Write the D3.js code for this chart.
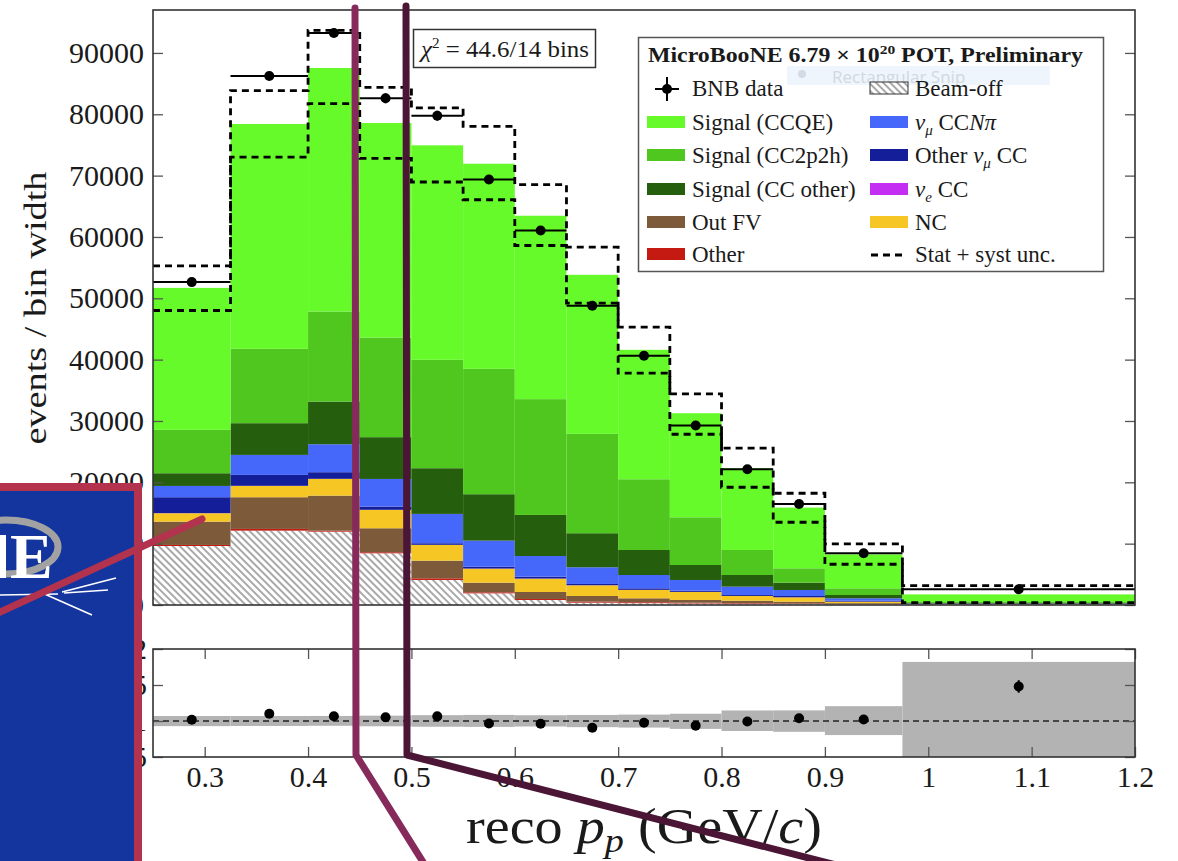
<!DOCTYPE html>
<meta charset="utf-8">
<style>
body { margin: 0; background: #fff; }
svg text { font-family: "Liberation Serif", "Times New Roman", serif; }
</style>
<body>
<script src="https://d3js.org/d3.v7.min.js"></script>
<script>

// bin edges of reco p_p (GeV/c)
var binEdges = [0.25, 0.325, 0.4, 0.45, 0.5, 0.55, 0.6, 0.65, 0.7, 0.75, 0.8, 0.85, 0.9, 0.975, 1.2];

// stacked prediction, events / bin width (bottom to top)
var beamOff   = [9620, 12120, 11960, 8430, 4080, 1900, 820, 380, 300, 250, 200, 150, 100, 20];
var otherBkg  = [170, 280, 160, 170, 270, 170, 160, 160, 150, 120, 100, 80, 60, 10];
var outFV     = [3800, 5170, 5710, 3910, 2880, 1570, 1140, 930, 640, 450, 400, 310, 140, 30];
var ncVals    = [1370, 1840, 2720, 2990, 2560, 2280, 2170, 1740, 1360, 1300, 770, 710, 240, 40];
var nueCC     = [20, 20, 20, 20, 20, 20, 20, 20, 20, 20, 10, 10, 10, 5];
var otherNumu = [2590, 1780, 1080, 520, 260, 310, 310, 200, 250, 190, 150, 210, 150, 25];
var ccNpi     = [1840, 3260, 4560, 4510, 4780, 4240, 3370, 2720, 2170, 1750, 1360, 980, 390, 100];
var sigCCother= [2070, 5170, 6960, 6810, 7450, 7570, 6690, 5550, 4080, 2440, 1900, 1190, 540, 100];
var sig2p2h   = [7070, 12120, 14680, 16250, 17670, 20440, 18880, 16200, 11530, 7780, 4080, 2340, 1090, 170];
var sigCCQE   = [23150, 36660, 39700, 34970, 34970, 33440, 29900, 25930, 21100, 16970, 13330, 9900, 5530, 1230];

// BNB data
var dataVals = [52640, 86250, 93260, 82600, 79770, 69380, 61060, 48780, 40620, 29250, 22140, 16480, 8430, 2560];
var dataErr  = [500, 600, 700, 800, 800, 700, 700, 600, 600, 500, 450, 400, 300, 150];

// stat + syst envelope
var uncHigh = [55300, 83850, 93690, 84390, 81030, 78030, 68520, 58350, 45300, 34420, 25560, 18220, 9950, 3150];
var uncLow  = [48010, 73030, 81730, 72810, 68960, 66070, 58610, 49220, 37800, 27840, 19200, 13490, 6640, 400];

var xTicks = [0.3, 0.4, 0.5, 0.6, 0.7, 0.8, 0.9, 1.0, 1.1, 1.2];
var yTicks = [0, 10000, 20000, 30000, 40000, 50000, 60000, 70000, 80000, 90000];
var ratioTicks = [0.5, 1, 1.5, 2];

var W = 1178, H = 861;
var ink = "#1a1a1a";
var svg = d3.select("body").append("svg").attr("width", W).attr("height", H);

var defs = svg.append("defs");
var hatch = defs.append("pattern").attr("id", "hatch")
    .attr("patternUnits", "userSpaceOnUse").attr("width", 5).attr("height", 5)
    .attr("patternTransform", "rotate(-45)");
hatch.append("rect").attr("width", 5).attr("height", 5).attr("fill", "#fff");
hatch.append("line").attr("x1", 1).attr("y1", 0).attr("x2", 1).attr("y2", 5)
    .attr("stroke", "#8c8c8c").attr("stroke-width", 1.5);

defs.append("clipPath").attr("id", "clipTop").append("rect")
    .attr("x", 153).attr("y", 10).attr("width", 982).attr("height", 595);
defs.append("clipPath").attr("id", "clipBot").append("rect")
    .attr("x", 153).attr("y", 649).attr("width", 982).attr("height", 108);

// scales
var x = d3.scaleLinear().domain([0.25, 1.2]).range([153, 1135]);
var y = d3.scaleLinear().domain([0, 97000]).range([605, 10]);
var yr = d3.scaleLinear().domain([0.5, 2]).range([757, 649]);

var layers = [
  {key: "beamoff", values: beamOff, fill: "url(#hatch)"},
  {key: "other", values: otherBkg, fill: "#c41a12"},
  {key: "outfv", values: outFV, fill: "#7d5a3a"},
  {key: "nc", values: ncVals, fill: "#f5c624"},
  {key: "nue", values: nueCC, fill: "#c42df2"},
  {key: "othernumu", values: otherNumu, fill: "#141e99"},
  {key: "ccnpi", values: ccNpi, fill: "#4567fa"},
  {key: "ccother", values: sigCCother, fill: "#255e0c"},
  {key: "cc2p2h", values: sig2p2h, fill: "#50c71f"},
  {key: "ccqe", values: sigCCQE, fill: "#67fa2b"}
];

var table = binEdges.slice(0, -1).map(function(lo, i) {
  var row = {lo: lo, hi: binEdges[i + 1]};
  layers.forEach(function(l) { row[l.key] = l.values[i]; });
  return row;
});
var stacked = d3.stack().keys(layers.map(function(l) { return l.key; }))(table);
var pred = table.map(function(row) {
  return d3.sum(layers, function(l) { return row[l.key]; });
});

// ---------- top panel ----------
var mainG = svg.append("g").attr("clip-path", "url(#clipTop)");

stacked.forEach(function(s, k) {
  mainG.append("g").selectAll("rect")
      .data(s)
    .enter().append("rect")
      .attr("x", function(d) { return x(d.data.lo); })
      .attr("width", function(d) { return x(d.data.hi) - x(d.data.lo); })
      .attr("y", function(d) { return y(d[1]); })
      .attr("height", function(d) { return y(d[0]) - y(d[1]); })
      .attr("fill", layers[k].fill);
});

function stepPoints(vals) {
  var pts = [];
  vals.forEach(function(v, i) {
    pts.push([x(binEdges[i]), y(v)]);
    pts.push([x(binEdges[i + 1]), y(v)]);
  });
  return pts;
}
[uncHigh, uncLow].forEach(function(arr) {
  mainG.append("path")
      .attr("d", d3.line()(stepPoints(arr)))
      .attr("fill", "none")
      .attr("stroke", "#000")
      .attr("stroke-width", 2.8)
      .attr("stroke-dasharray", "7,5");
});

// data
var dg = mainG.append("g");
dataVals.forEach(function(v, i) {
  var cx = x((binEdges[i] + binEdges[i + 1]) / 2);
  dg.append("line").attr("x1", x(binEdges[i])).attr("x2", x(binEdges[i + 1]))
      .attr("y1", y(v)).attr("y2", y(v)).attr("stroke", "#000").attr("stroke-width", 2);
  dg.append("line").attr("x1", cx).attr("x2", cx)
      .attr("y1", y(v - dataErr[i])).attr("y2", y(v + dataErr[i])).attr("stroke", "#000").attr("stroke-width", 2);
  dg.append("circle").attr("cx", cx).attr("cy", y(v)).attr("r", 5).attr("fill", "#000");
});

// axes top
var axL = svg.append("g").attr("transform", "translate(153,0)")
    .call(d3.axisLeft(y).tickValues(yTicks).tickSizeInner(-10).tickSizeOuter(0).tickPadding(9).tickFormat(d3.format("d")));
var axR = svg.append("g").attr("transform", "translate(1135,0)")
    .call(d3.axisRight(y).tickValues(yTicks).tickSizeInner(-10).tickSizeOuter(0).tickFormat(""));
[axL, axR].forEach(function(a) {
  a.select(".domain").remove();
  a.selectAll("line").attr("stroke", "#555").attr("stroke-width", 1.3);
});
axL.selectAll("text").style("font-family", "Liberation Serif").style("font-size", "30px").style("fill", ink);

svg.append("rect").attr("x", 153).attr("y", 10).attr("width", 982).attr("height", 595)
    .attr("fill", "none").attr("stroke", "#333").attr("stroke-width", 1.6);

svg.append("text")
    .attr("transform", "translate(46,308) rotate(-90)")
    .attr("text-anchor", "middle")
    .attr("textLength", 273).attr("lengthAdjust", "spacingAndGlyphs")
    .style("font-size", "31px").style("fill", ink)
    .text("events / bin width");

// chi2 box
svg.append("rect").attr("x", 413.5).attr("y", 29.5).attr("width", 182).attr("height", 38)
    .attr("fill", "#fff").attr("stroke", "#333").attr("stroke-width", 1.5);
var chi = svg.append("text").attr("x", 421).attr("y", 57).style("font-size", "23px").style("fill", ink)
    .attr("textLength", 168).attr("lengthAdjust", "spacingAndGlyphs");
chi.append("tspan").style("font-style", "italic").text("χ");
chi.append("tspan").attr("dy", -9).style("font-size", "14px").text("2");
chi.append("tspan").attr("dy", 9).text(" = 44.6/14 bins");

// ---------- ratio panel ----------
var bot = svg.append("g").attr("clip-path", "url(#clipBot)");
pred.forEach(function(p, i) {
  var hi = Math.min(uncHigh[i] / p, 2.1), lo = Math.max(uncLow[i] / p, 0.4);
  bot.append("rect").attr("x", x(binEdges[i])).attr("width", x(binEdges[i + 1]) - x(binEdges[i]))
      .attr("y", yr(hi)).attr("height", yr(lo) - yr(hi)).attr("fill", "#b3b3b3");
});
bot.append("line").attr("x1", x(0.25)).attr("x2", x(1.2)).attr("y1", yr(1)).attr("y2", yr(1))
    .attr("stroke", "#222").attr("stroke-width", 1.6).attr("stroke-dasharray", "6,4");
dataVals.forEach(function(v, i) {
  var r = v / pred[i];
  var cx = x((binEdges[i] + binEdges[i + 1]) / 2);
  bot.append("line").attr("x1", cx).attr("x2", cx)
      .attr("y1", yr(r - dataErr[i] / pred[i])).attr("y2", yr(r + dataErr[i] / pred[i]))
      .attr("stroke", "#000").attr("stroke-width", 2);
  bot.append("circle").attr("cx", cx).attr("cy", yr(r)).attr("r", 5).attr("fill", "#000");
});

var rL = svg.append("g").attr("transform", "translate(153,0)")
    .call(d3.axisLeft(yr).tickValues(ratioTicks).tickSizeInner(-10).tickSizeOuter(0).tickPadding(6).tickFormat(d3.format("~g")));
var rR = svg.append("g").attr("transform", "translate(1135,0)")
    .call(d3.axisRight(yr).tickValues(ratioTicks).tickSizeInner(-10).tickSizeOuter(0).tickFormat(""));
var xB = svg.append("g").attr("transform", "translate(0,757)")
    .call(d3.axisBottom(x).tickValues(xTicks).tickSizeInner(-10).tickSizeOuter(0).tickPadding(9).tickFormat(d3.format("~g")));
var xT = svg.append("g").attr("transform", "translate(0,649)")
    .call(d3.axisTop(x).tickValues(xTicks).tickSizeInner(-10).tickSizeOuter(0).tickFormat(""));
[rL, rR, xB, xT].forEach(function(a) {
  a.select(".domain").remove();
  a.selectAll("line").attr("stroke", "#555").attr("stroke-width", 1.3);
  a.selectAll("text").style("font-family", "Liberation Serif").style("font-size", "30px").style("fill", ink);
});
svg.append("rect").attr("x", 153).attr("y", 649).attr("width", 982).attr("height", 108)
    .attr("fill", "none").attr("stroke", "#333").attr("stroke-width", 1.6);

var xt = svg.append("text").attr("x", 644).attr("y", 843).attr("text-anchor", "middle")
    .style("font-size", "50px").style("fill", ink).attr("textLength", 356).attr("lengthAdjust", "spacingAndGlyphs");
xt.append("tspan").text("reco ");
xt.append("tspan").style("font-style", "italic").text("p");
xt.append("tspan").attr("dy", 9).style("font-size", "34px").style("font-style", "italic").text("p");
xt.append("tspan").attr("dy", -9).text(" (GeV/");
xt.append("tspan").style("font-style", "italic").text("c");
xt.append("tspan").text(")");

// ---------- legend ----------
var lg = svg.append("g");
lg.append("rect").attr("x", 638.5).attr("y", 37.5).attr("width", 465).attr("height", 234)
    .attr("fill", "#fff").attr("stroke", "#555").attr("stroke-width", 1.5);

// snipping tool ghost behind the legend text
lg.append("rect").attr("x", 787).attr("y", 66).attr("width", 263).attr("height", 19).attr("fill", "#eef5fd");
lg.append("circle").attr("cx", 802).attr("cy", 74).attr("r", 4).attr("fill", "#d3dbe6");
lg.append("text").attr("x", 832).attr("y", 83).style("font-family", "Open Sans").style("font-size", "17px")
    .style("fill", "#d2d8e0").text("Rectangular Snip");

var lt = lg.append("text").attr("x", 648).attr("y", 62).style("font-size", "20px").style("font-weight", "bold")
    .style("fill", ink).attr("textLength", 435).attr("lengthAdjust", "spacingAndGlyphs");
lt.append("tspan").text("MicroBooNE 6.79 × 10");
lt.append("tspan").attr("dy", -8).style("font-size", "13px").text("20");
lt.append("tspan").attr("dy", 8).text(" POT, Preliminary");

var rowY = [96, 130, 163, 197, 230, 262];
var leftEntries = [
  {label: "BNB data", kind: "data"},
  {label: "Signal (CCQE)", fill: "#67fa2b"},
  {label: "Signal (CC2p2h)", fill: "#50c71f"},
  {label: "Signal (CC other)", fill: "#255e0c"},
  {label: "Out FV", fill: "#7d5a3a"},
  {label: "Other", fill: "#c41a12"}
];
var rightEntries = [
  {parts: [["Beam-off", ""]], fill: "url(#hatch)", stroke: true},
  {parts: [["ν", "i"], ["μ", "sub"], [" CC", ""], ["N", "i"], ["π", "i"]], fill: "#4567fa"},
  {parts: [["Other ", ""], ["ν", "i"], ["μ", "sub"], [" CC", ""]], fill: "#141e99"},
  {parts: [["ν", "i"], ["e", "sub"], [" CC", ""]], fill: "#c42df2"},
  {parts: [["NC", ""]], fill: "#f5c624"},
  {parts: [["Stat + syst unc.", ""]], kind: "dash"}
];

leftEntries.forEach(function(e, i) {
  var by = rowY[i];
  if (e.kind === "data") {
    lg.append("line").attr("x1", 655).attr("x2", 679).attr("y1", by - 7).attr("y2", by - 7).attr("stroke", "#000").attr("stroke-width", 2);
    lg.append("line").attr("x1", 667).attr("x2", 667).attr("y1", by - 19).attr("y2", by + 5).attr("stroke", "#000").attr("stroke-width", 2);
    lg.append("circle").attr("cx", 667).attr("cy", by - 7).attr("r", 5).attr("fill", "#000");
  } else {
    lg.append("rect").attr("x", 647).attr("y", by - 14).attr("width", 38).attr("height", 12).attr("fill", e.fill);
  }
  lg.append("text").attr("x", 692).attr("y", by).style("font-size", "23px").style("fill", ink).text(e.label);
});

rightEntries.forEach(function(e, i) {
  var by = rowY[i];
  if (e.kind === "dash") {
    lg.append("line").attr("x1", 871).attr("x2", 906).attr("y1", by - 7).attr("y2", by - 7)
        .attr("stroke", "#000").attr("stroke-width", 2.8).attr("stroke-dasharray", "7,5");
  } else {
    lg.append("rect").attr("x", 870).attr("y", by - 14).attr("width", 38).attr("height", 12)
        .attr("fill", e.fill).attr("stroke", e.stroke ? "#333" : "none").attr("stroke-width", 1);
  }
  var t = lg.append("text").attr("x", 915).attr("y", by).style("font-size", "23px").style("fill", ink);
  var shift = 0;
  e.parts.forEach(function(p) {
    var sp = t.append("tspan").text(p[0]);
    if (p[1] === "i") { sp.style("font-style", "italic"); }
    if (p[1] === "sub") {
      sp.style("font-style", "italic").style("font-size", "15px").attr("dy", 5); shift = 5;
    } else if (shift) {
      sp.attr("dy", -shift); shift = 0;
    }
  });
});

// ---------- slide overlays ----------
var ov = svg.append("g");
ov.append("rect").attr("x", 0).attr("y", 487).attr("width", 138).attr("height", 380).attr("fill", "#15359e");
ov.append("ellipse").attr("cx", 6).attr("cy", 547).attr("rx", 52).attr("ry", 27)
    .attr("fill", "none").attr("stroke", "#a2a2a2").attr("stroke-width", 7);
ov.append("path").attr("d", "M0,535 L6,535 L6,578 L0,578").attr("fill", "#fff");
ov.append("text").attr("x", 10).attr("y", 578)
    .style("font-size", "64px").style("font-weight", "bold").style("fill", "#fff").text("E");
var wl = [[0, 595, 58, 594], [40, 592, 92, 615], [62, 592, 116, 578], [64, 593, 108, 590]];
wl.forEach(function(l) {
  ov.append("line").attr("x1", l[0]).attr("y1", l[1]).attr("x2", l[2]).attr("y2", l[3])
      .attr("stroke", "#fff").attr("stroke-width", 1.6);
});
ov.append("path").attr("d", "M0,487 H138 V870").attr("fill", "none")
    .attr("stroke", "#b3324e").attr("stroke-width", 8);
ov.append("line").attr("x1", -4).attr("y1", 614).attr("x2", 202).attr("y2", 519)
    .attr("stroke", "#b3324e").attr("stroke-width", 7).attr("stroke-linecap", "round");

ov.append("path").attr("d", "M355,8 L356,755 L428,870").attr("fill", "none")
    .attr("stroke", "#862a5c").attr("stroke-width", 7).attr("stroke-linecap", "round").attr("stroke-linejoin", "round");
ov.append("path").attr("d", "M406,6 L407,755 L840,866").attr("fill", "none")
    .attr("stroke", "#4b1535").attr("stroke-width", 7).attr("stroke-linecap", "round").attr("stroke-linejoin", "round");

</script>
</body>
